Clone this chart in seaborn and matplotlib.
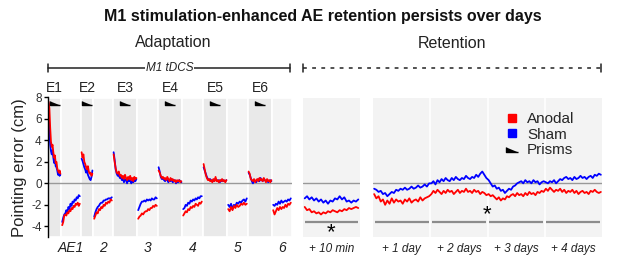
import numpy as np
import pandas as pd
import seaborn as sns
from matplotlib import pyplot as plt
from matplotlib.lines import Line2D

sns.set_theme(style='white')
plt.rcParams['font.family'] = ['Liberation Sans', 'DejaVu Sans']
plt.rcParams['axes.unicode_minus'] = False

# ---- data (pointing error, cm) ----
groups = ['Sham', 'Anodal']
colors = {'Anodal': '#ff0000', 'Sham': '#0000ff'}

exp_labels = ['E1', 'E2', 'E3', 'E4', 'E5', 'E6']
ae_labels = ['AE1', '2', '3', '4', '5', '6']
exp_trials = [13, 12, 24, 24, 24, 24]
ae_trials = [20, 20, 21, 21, 21, 20]

exp_anodal = [
    [7.6, 7.0, 5.2, 3.9, 3.4, 3.6, 2.9, 2.4, 2.6, 1.9, 2.0, 1.4, 1.2, 1.0, 1.2, 0.9],
    [2.9, 2.4, 2.7, 2.0, 1.8, 1.5, 1.3, 1.6, 1.1, 0.9, 1.0, 0.7, 0.9],
    [2.7, 2.0, 1.4, 1.0, 0.9, 1.1, 0.7, 0.8, 0.5, 0.7, 0.4, 0.8, 0.5, 0.3, 0.6, 0.4, 0.7, 0.3, 0.5, 0.2, 0.6, 0.4, 0.5],
    [1.2, 1.0, 0.7, 0.5, 0.6, 0.4, 0.5, 0.3, 0.6, 0.4, 0.2, 0.5, 0.3, 0.4, 0.2, 0.3, 0.1, 0.3, 0.2, 0.3, 0.1, 0.2],
    [1.8, 1.3, 0.8, 0.5, 0.3, 0.4, 0.2, 0.3, 0.1, 0.4, 0.2, 0.6, 0.2, 0.3, 0.1, 0.3, 0.2, 0.4, 0.2, 0.3, 0.1, 0.3],
    [1.1, 0.9, 0.4, 0.3, 0.2, 0.4, 0.1, 0.3, 0.4, 0.2, 0.5, 0.3, 0.4, 0.2, 0.5, 0.3, 0.1, 0.4, 0.2, 0.3, 0.1, 0.3],
]
exp_sham = [
    [7.4, 5.0, 3.6, 3.0, 2.7, 3.1, 2.4, 1.9, 2.2, 1.6, 1.5, 1.2, 0.8, 0.9, 0.7, 0.8],
    [2.3, 2.1, 1.8, 1.5, 1.3, 1.0, 1.2, 0.8, 0.6, 0.4, 0.3, 0.6, 1.2],
    [2.9, 2.2, 1.3, 0.9, 0.7, 0.8, 0.5, 0.6, 0.3, 0.5, 0.1, 0.4, 0.3, 0.0, 0.4, 0.2, 0.3, 0.0, 0.2, 0.1, 0.3, 0.2, 0.4],
    [1.5, 1.1, 0.6, 0.4, 0.5, 0.3, 0.2, 0.4, 0.3, 0.1, 0.3, 0.2, 0.4, 0.1, 0.2, 0.3, 0.0, 0.2, 0.1, 0.3, 0.2, 0.1],
    [1.5, 1.2, 0.9, 0.6, 0.4, 0.3, 0.4, 0.2, 0.3, 0.2, 0.3, 0.4, 0.3, 0.2, 0.3, 0.1, 0.3, 0.2, 0.3, 0.2, 0.2, 0.3],
    [1.0, 0.8, 0.5, 0.2, 0.0, 0.3, 0.2, 0.1, 0.3, 0.4, 0.2, 0.5, 0.3, 0.2, 0.4, 0.3, 0.2, 0.3, 0.1, 0.2, 0.3, 0.2],
]
ae_anodal = [
    [-3.9, -3.6, -3.0, -2.9, -3.0, -2.7, -2.8, -2.5, -2.6, -2.3, -2.4, -2.1, -2.2, -1.9, -2.0, -1.8, -2.1, -1.9],
    [-3.3, -3.0, -2.7, -2.8, -2.4, -2.5, -2.2, -2.3, -2.0, -2.1, -1.8, -1.9, -1.7, -1.8, -1.5, -1.6],
    [-3.3, -3.1, -3.0, -2.8, -2.9, -2.7, -2.6, -2.6, -2.4, -2.5, -2.3, -2.3, -2.1, -2.2, -2.0, -2.1],
    [-3.0, -2.8, -2.6, -2.7, -2.4, -2.5, -2.2, -2.3, -2.1, -2.2, -1.9, -2.0, -2.1, -1.8, -1.9, -1.7],
    [-2.4, -2.6, -2.2, -2.5, -2.1, -2.3, -2.0, -2.2, -2.1, -1.9, -2.0, -1.8, -2.0, -1.9],
    [-2.5, -2.9, -2.6, -2.3, -2.5, -2.2, -2.4, -2.2, -2.3, -2.0, -2.2, -1.9, -2.0, -1.8],
]
ae_sham = [
    [-3.6, -3.2, -2.9, -2.8, -2.5, -2.7, -2.2, -2.4, -1.9, -2.1, -1.7, -1.8, -1.5, -1.6, -1.3, -1.4, -1.1, -1.2],
    [-3.1, -2.7, -2.4, -2.2, -2.1, -1.9, -1.8, -1.8, -1.6, -1.6, -1.5, -1.5, -1.4, -1.4, -1.4, -1.3],
    [-2.5, -2.2, -1.9, -1.7, -1.7, -1.6, -1.7, -1.5, -1.6, -1.5, -1.6, -1.4, -1.5, -1.5, -1.3, -1.4],
    [-2.4, -2.3, -2.0, -2.1, -1.8, -1.9, -1.6, -1.7, -1.5, -1.6, -1.4, -1.5, -1.3, -1.4, -1.2, -1.2],
    [-2.0, -2.2, -1.9, -2.4, -2.0, -2.1, -1.8, -1.9, -1.7, -1.8, -1.6, -1.5, -1.7, -1.4],
    [-2.0, -2.1, -1.9, -2.0, -1.7, -1.9, -1.6, -1.8, -1.7, -1.6, -1.7, -1.5, -1.6, -1.4],
]

ret10_labels = ['+ 10 min']
ret10_anodal = [-2.2, -2.5, -2.4, -2.7, -2.6, -2.8, -2.7, -2.9, -2.7, -2.8, -2.6, -2.7,
                -2.5, -2.6, -2.7, -2.5, -2.6, -2.4, -2.5, -2.3, -2.4, -2.3, -2.2, -2.3]
ret10_sham = [-1.4, -1.2, -1.5, -1.3, -1.6, -1.4, -1.7, -1.5, -1.8, -1.6, -1.9, -1.6,
              -1.7, -1.4, -1.5, -1.2, -1.5, -1.3, -1.7, -1.6, -1.8, -1.6, -1.7, -1.5]

day_labels = ['+ 1 day', '+ 2 days', '+ 3 days', '+ 4 days']
days_anodal = [
    [-1.0, -1.4, -1.2, -1.7, -1.5, -2.0, -1.6, -1.9, -1.4, -1.8, -1.5, -1.7, -1.6, -1.9,
     -1.5, -1.7, -1.4, -1.8, -1.6, -1.5, -1.7, -1.3, -1.6, -1.4, -1.3, -1.2],
    [-1.0, -0.7, -0.9, -0.6, -0.8, -1.0, -0.7, -0.9, -0.6, -0.8, -0.7, -1.0, -0.8, -0.6,
     -0.9, -0.7, -0.8, -0.5, -0.8, -0.7, -0.9, -0.6, -0.8, -0.7, -1.0, -0.8, -0.9, -1.1],
    [-1.0, -1.2, -1.1, -1.3, -1.5, -1.3, -1.6, -1.4, -1.5, -1.2, -1.3, -1.1, -1.0, -1.2,
     -0.9, -1.1, -1.0, -1.2, -0.9, -1.1, -0.8, -1.0, -0.9, -1.1, -0.8, -0.9, -0.7, -0.8],
    [-0.5, -0.7, -0.4, -0.6, -0.8, -0.6, -0.7, -0.5, -0.8, -0.6, -0.9, -0.7, -0.8, -0.6,
     -0.9, -0.7, -1.0, -0.8, -0.7, -0.9, -0.8, -1.0, -0.7, -0.8, -0.6, -0.8, -0.9, -0.8],
]
days_sham = [
    [-0.5, -0.6, -0.8, -0.7, -1.0, -0.9, -1.2, -1.0, -0.8, -0.9, -0.6, -0.7, -0.5, -0.6,
     -0.4, -0.6, -0.5, -0.3, -0.5, -0.4, -0.2, -0.4, -0.3, -0.1, -0.3, 0.0],
    [0.0, 0.2, -0.1, 0.3, 0.1, 0.4, 0.2, 0.5, 0.3, 0.2, 0.5, 0.3, 0.6, 0.4, 0.3, 0.5,
     0.4, 0.7, 0.5, 0.4, 0.6, 0.5, 0.8, 0.6, 0.9, 1.1, 0.8, 0.5],
    [0.3, 0.0, -0.3, -0.2, -0.5, -0.4, -0.7, -0.6, -0.9, -0.7, -0.5, -0.6, -0.3, -0.2,
     0.0, 0.1, 0.2, 0.0, 0.3, 0.1, 0.2, 0.0, 0.3, 0.1, 0.2, -0.1, 0.1, 0.2],
    [0.1, 0.0, 0.2, 0.1, 0.3, 0.0, 0.2, 0.4, 0.3, 0.5, 0.6, 0.4, 0.5, 0.3, 0.6, 0.4,
     0.5, 0.7, 0.5, 0.6, 0.4, 0.6, 0.7, 0.5, 0.8, 0.7, 0.9, 0.8],
]

# ---- build long tables ----
dark_bg, light_bg = '#e9e9e9', '#f4f4f4'

rows = []
blocks = []  # (start, width, kind, label)
pos = 0
for i in range(6):
    blocks.append((pos, exp_trials[i], 'exp', exp_labels[i]))
    for g, vals in (('Anodal', exp_anodal[i]), ('Sham', exp_sham[i])):
        xs = np.linspace(pos + 0.6, pos + exp_trials[i] - 0.6, len(vals))
        rows += [dict(x=x, err=v, group=g, seg=f'E{i}') for x, v in zip(xs, vals)]
    pos += exp_trials[i]
    blocks.append((pos, ae_trials[i], 'ae', ae_labels[i]))
    for g, vals in (('Anodal', ae_anodal[i]), ('Sham', ae_sham[i])):
        xs = np.linspace(pos + 1.2, pos + ae_trials[i] - 1.2, len(vals))
        rows += [dict(x=x, err=v, group=g, seg=f'AE{i}') for x, v in zip(xs, vals)]
    pos += ae_trials[i]
adapt_df = pd.DataFrame(rows)

rows = []
for g, vals in (('Anodal', ret10_anodal), ('Sham', ret10_sham)):
    xs = np.linspace(0.03, 0.97, len(vals))
    rows += [dict(x=x, err=v, group=g) for x, v in zip(xs, vals)]
ret10_df = pd.DataFrame(rows)

rows = []
for d in range(4):
    for g, vals in (('Anodal', days_anodal[d]), ('Sham', days_sham[d])):
        xs = d + np.linspace(0.02, 0.98, len(vals))
        rows += [dict(x=x, err=v, group=g) for x, v in zip(xs, vals)]
days_df = pd.DataFrame(rows)

# ---- figure ----
W, H = 617, 259
fig = plt.figure(figsize=(W / 100, H / 100), dpi=100)


def frac(x0, y0, x1, y1):
    return [x0 / W, 1 - y1 / H, (x1 - x0) / W, (y1 - y0) / H]


ax1 = fig.add_axes(frac(48, 97.5, 292, 237))
ax2 = fig.add_axes(frac(303, 97.5, 360, 237))
ax3 = fig.add_axes(frac(373, 97.5, 602, 237))

prism = [(-1, 0.45), (-1, -0.45), (1, -0.45)]

# adaptation panel
for start, width, kind, label in blocks:
    ax1.axvspan(start, start + width, color=dark_bg if kind == 'exp' else light_bg,
                ec='white', lw=1.2, zorder=0)
    if kind == 'exp':
        ax1.text(start + width / 2, 8.9, label, ha='center', va='center', fontsize=10,
                 color='#222222', clip_on=False)
        ax1.plot(start + width / 2, 7.45, marker=prism, ms=7, color='black', zorder=3)
ax1.axhline(0, color='#999999', lw=1, zorder=1)
sns.lineplot(data=adapt_df, x='x', y='err', hue='group', units='seg', estimator=None,
             hue_order=groups, palette=colors, sort=False, lw=1.3, legend=False, ax=ax1)
ax1.set_xlim(0, pos)
ax1.set_ylim(-5, 8)
ax1.set_yticks([-4, -2, 0, 2, 4, 6, 8])
ae_centers = [s + w / 2 for s, w, k, _ in blocks if k == 'ae']
ax1.set_xticks(ae_centers)
ax1.set_xticklabels(ae_labels, fontstyle='italic', fontsize=10, color='#222222')
ax1.tick_params(axis='x', length=0, pad=3)
ax1.tick_params(axis='y', direction='out', length=3, width=1, color='black',
                labelsize=8.5, labelcolor='#333333', pad=1.5, left=True)
for sp in ['top', 'right', 'bottom']:
    ax1.spines[sp].set_visible(False)
ax1.spines['left'].set_color('black')
ax1.spines['left'].set_linewidth(1)
ax1.set_xlabel('')
ax1.set_ylabel('')

# retention panels
for ax, df, n in ((ax2, ret10_df, 1), (ax3, days_df, 4)):
    ax.set_facecolor('#f3f3f3')
    for d in range(1, n):
        ax.axvline(d, color='white', lw=1.2, zorder=0)
    ax.axhline(0, color='#999999', lw=1, zorder=1)
    for d in range(n):
        ax.plot([d + 0.03, d + 0.97], [-3.6, -3.6], color='#8c8c8c', lw=1.6,
                solid_capstyle='butt')
    sns.lineplot(data=df, x='x', y='err', hue='group', estimator=None, hue_order=groups,
                 palette=colors, sort=False, lw=1.3, legend=False, ax=ax)
    ax.set_xlim(0, n)
    ax.set_ylim(-5, 8)
    ax.set_yticks([])
    ax.set_xticks([d + 0.5 for d in range(n)])
    ax.tick_params(axis='x', length=0, pad=4)
    for sp in ax.spines.values():
        sp.set_visible(False)
    ax.set_xlabel('')
    ax.set_ylabel('')
ax2.set_xticklabels(ret10_labels, fontstyle='italic', fontsize=8.5, color='#222222')
ax3.set_xticklabels(day_labels, fontstyle='italic', fontsize=8.5, color='#222222')
ax2.text(0.5, -4.6, '*', ha='center', va='center', fontsize=16, color='black')
ax3.text(2.0, -2.9, '*', ha='center', va='center', fontsize=16, color='black')

# legend
handles = [Line2D([], [], ls='', marker='s', ms=6, color=colors['Anodal']),
           Line2D([], [], ls='', marker='s', ms=6, color=colors['Sham']),
           Line2D([], [], ls='', marker=prism, ms=8, color='black')]
fig.legend(handles, ['Anodal', 'Sham', 'Prisms'], loc='upper left',
           bbox_to_anchor=(498 / W, 1 - 106 / H), frameon=False, fontsize=11,
           handlelength=1.0, handletextpad=0.5, labelspacing=0.1, borderaxespad=0)

# headers
fig.text(323 / W, 1 - 17 / H, 'M1 stimulation-enhanced AE retention persists over days',
         ha='center', va='center', fontsize=11.5, fontweight='bold', color='#111111')
fig.text(173 / W, 1 - 42 / H, 'Adaptation', ha='center', va='center', fontsize=11.5,
         color='#222222')
fig.text(452 / W, 1 - 43 / H, 'Retention', ha='center', va='center', fontsize=11.5,
         color='#222222')
yl = 1 - 68 / H
fig.add_artist(Line2D([48 / W, 290 / W], [yl, yl], color='#222222', lw=1.1))
fig.add_artist(Line2D([303 / W, 601 / W], [yl, yl], color='#222222', lw=1.1,
                      ls=(0, (2.5, 3.5))))
for xc in (48, 290, 303, 601):
    fig.add_artist(Line2D([xc / W, xc / W], [yl - 4 / H, yl + 4 / H], color='#222222', lw=1.1))
fig.text(169.5 / W, yl, 'M1 tDCS', ha='center', va='center', fontsize=8.5,
         fontstyle='italic', color='#222222',
         bbox=dict(facecolor='white', edgecolor='none', pad=0.5))
fig.text(20 / W, 1 - 168 / H, 'Pointing error (cm)', rotation=90, ha='center',
         va='center', fontsize=12, color='#222222')

fig.savefig('out.png', dpi=100, facecolor='white')
